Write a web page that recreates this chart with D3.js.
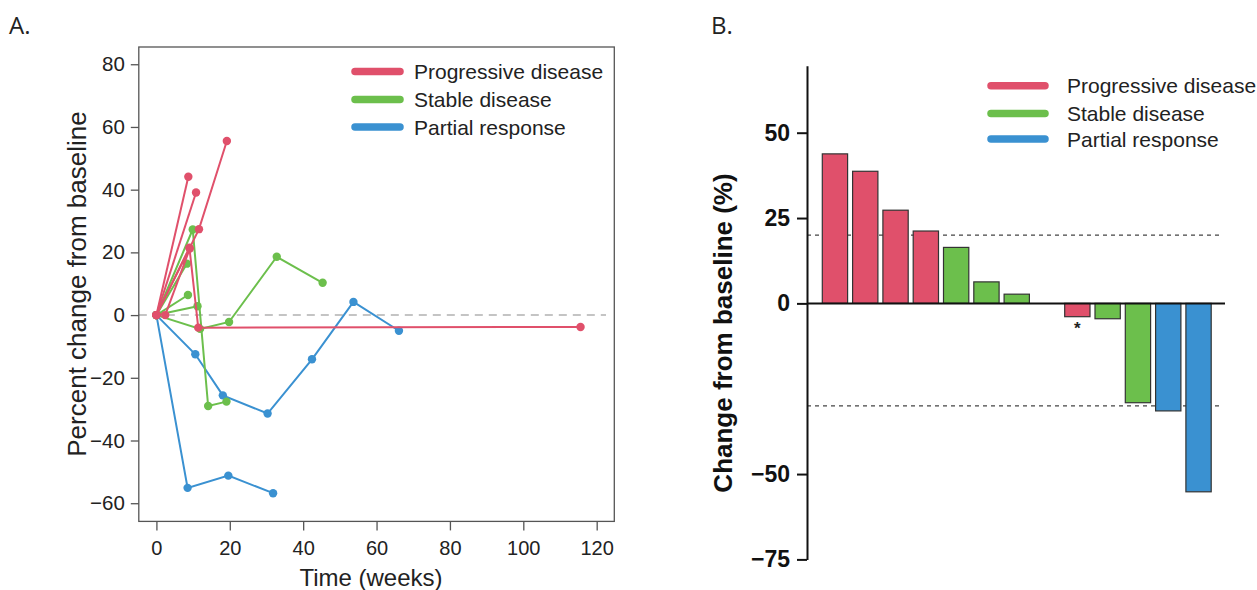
<!DOCTYPE html>
<html><head><meta charset="utf-8">
<script src="https://cdn.jsdelivr.net/npm/d3@7"></script>
<style>
html,body{margin:0;padding:0;background:#fff;}
svg{display:block;font-family:"Liberation Sans",Arial,Helvetica,sans-serif;}
</style></head>
<body><svg id="c" width="1257" height="590"></svg>
<script>
// ---------- DATA ----------
const groupNames = ["Progressive disease", "Stable disease", "Partial response"];
const groupColors = ["#E0506B", "#6CBF4C", "#3A91D1"];

// Panel A: [week, percent change] per patient
const pdPatients = [
  [[0,0],[8.7,44.1]],
  [[0,0],[10.8,39.1]],
  [[0,0],[11.6,27.4],[19.2,55.5]],
  [[2.4,0],[9.1,21.2]],
  [[0,0],[9.0,21.5],[11.4,-4.0],[115.6,-3.8]]
];
const sdPatients = [
  [[0,0],[9.9,27.3],[14.1,-29.0],[19.1,-27.6]],
  [[0,0],[8.3,16.4]],
  [[0,0],[8.6,6.4]],
  [[0,0],[11.2,2.8]],
  [[0,0],[11.9,-4.4],[19.8,-2.2],[32.8,18.6],[45.3,10.3]]
];
const prPatients = [
  [[0,0],[10.6,-12.5],[18.1,-25.6],[30.3,-31.4],[42.4,-14.1],[53.7,4.2],[66.1,-5.0]],
  [[0,0],[8.5,-55.1],[19.6,-51.2],[31.8,-56.8]]
];
const xTicksA = [0,20,40,60,80,100,120];
const yTicksA = [-60,-40,-20,0,20,40,60,80];

// Panel B: best change per patient (waterfall)
const waterfallValues = [43.8, 38.7, 27.3, 21.2, 16.4, 6.3, 2.7, null, -3.9, -4.5, -29.1, -31.5, -55.2];
const waterfallGroups = [0, 0, 0, 0, 1, 1, 1, null, 0, 1, 1, 2, 2];
const waterfallStar = [false,false,false,false,false,false,false,false,true,false,false,false,false];
const yTicksB = [50, 25, 0, -50, -75];
const thresholdsB = [20, -30];

// ---------- DRAW ----------
const svg = d3.select("#c");
svg.append("rect").attr("width",1257).attr("height",590).attr("fill","#fff");
const minus = s => String(s).replace("-", "\u2212");

// Panel labels
svg.append("text").attr("x",9).attr("y",34).attr("font-family","'Open Sans',sans-serif")
  .attr("font-size",24).attr("fill","#222").text("A.");
svg.append("text").attr("x",711).attr("y",34).attr("font-family","'Open Sans',sans-serif")
  .attr("font-size",24).attr("fill","#222").text("B.");

// ===== Panel A =====
const xA = d3.scaleLinear().domain([-4.8,124.8]).range([138.8,614.3]);
const yA = d3.scaleLinear().domain([-65.8,85.5]).range([521.4,47]);
const gA = svg.append("g");

// zero reference dashed
gA.append("line").attr("x1",xA.range()[0]).attr("x2",606)
  .attr("y1",yA(0)).attr("y2",yA(0))
  .attr("stroke","#c4c4c4").attr("stroke-width",2).attr("stroke-dasharray","8,6");

const line = d3.line().x(d=>xA(d[0])).y(d=>yA(d[1]));
[prPatients, sdPatients, pdPatients].forEach((grp, k) => {
  const gi = 2 - k;
  grp.forEach(p => {
    gA.append("path").attr("d", line(p)).attr("fill","none")
      .attr("stroke", groupColors[gi]).attr("stroke-width",2);
    gA.selectAll(null).data(p).enter().append("circle")
      .attr("cx", d=>xA(d[0])).attr("cy", d=>yA(d[1])).attr("r",4.2)
      .attr("fill", groupColors[gi]);
  });
});

// box
gA.append("rect").attr("x",138.8).attr("y",47).attr("width",614.3-138.8).attr("height",521.4-47)
  .attr("fill","none").attr("stroke","#555").attr("stroke-width",1.3);

// axes
const axXA = gA.append("g").attr("transform",`translate(0,${yA.range()[0]})`)
  .call(d3.axisBottom(xA).tickValues(xTicksA).tickSize(9).tickPadding(10).tickSizeOuter(0));
axXA.select(".domain").remove();
axXA.selectAll("line").attr("stroke","#555").attr("stroke-width",1.3);
axXA.selectAll("text").attr("font-size",20).attr("fill","#222")
  .attr("font-family","'Liberation Sans',Arial,sans-serif");
const axYA = gA.append("g").attr("transform",`translate(${xA.range()[0]},0)`)
  .call(d3.axisLeft(yA).tickValues(yTicksA).tickSize(8).tickPadding(6).tickFormat(minus));
axYA.select(".domain").remove();
axYA.selectAll("line").attr("stroke","#555").attr("stroke-width",1.3);
axYA.selectAll("text").attr("font-size",20.5).attr("fill","#222")
  .attr("font-family","'Liberation Sans',Arial,sans-serif");

gA.append("text").attr("x",371).attr("y",586).attr("text-anchor","middle")
  .attr("font-size",24).attr("fill","#222").text("Time (weeks)");
gA.append("text").attr("transform","translate(86,284) rotate(-90)").attr("text-anchor","middle")
  .attr("font-size",26).attr("fill","#222").text("Percent change from baseline");

// legend A
const legAy = [71.4, 99.6, 127];
groupNames.forEach((n,i)=>{
  gA.append("line").attr("x1",355).attr("x2",400).attr("y1",legAy[i]).attr("y2",legAy[i])
    .attr("stroke",groupColors[i]).attr("stroke-width",7.5).attr("stroke-linecap","round");
  gA.append("text").attr("x",414).attr("y",legAy[i]+7.5).attr("font-size",21)
    .attr("fill","#222").text(n);
});

// ===== Panel B =====
const xB = d3.scaleBand().domain(d3.range(waterfallValues.length))
  .range([822.3,1211.2]).paddingInner(0.165).paddingOuter(0);
const yB = d3.scaleLinear().domain([-75,69.6]).range([559.4,65.8]);
const gB = svg.append("g");

thresholdsB.forEach(t=>{
  gB.append("line").attr("x1",807).attr("x2",1223).attr("y1",yB(t)).attr("y2",yB(t))
    .attr("stroke","#444").attr("stroke-width",1.2).attr("stroke-dasharray","4,4");
});

const barData = waterfallValues.map((v,i)=>({i, v, g: waterfallGroups[i], star: waterfallStar[i]}))
  .filter(d=>d.v!==null);
gB.selectAll("rect.bar").data(barData).enter().append("rect").attr("class","bar")
  .attr("x", d=>xB(d.i)).attr("width", xB.bandwidth())
  .attr("y", d=>yB(Math.max(0,d.v))).attr("height", d=>Math.abs(yB(d.v)-yB(0)))
  .attr("fill", d=>groupColors[d.g]).attr("stroke","#333").attr("stroke-width",1.2);

gB.selectAll("text.star").data(barData.filter(d=>d.star)).enter().append("text")
  .attr("x", d=>xB(d.i)+xB.bandwidth()/2).attr("y", d=>yB(d.v)+17)
  .attr("text-anchor","middle").attr("font-size",17).attr("font-weight","bold")
  .attr("fill","#222").text("*");

// zero line
gB.append("line").attr("x1",807).attr("x2",1225).attr("y1",yB(0)).attr("y2",yB(0))
  .attr("stroke","#111").attr("stroke-width",2);

const axYB = gB.append("g").attr("transform","translate(807,0)")
  .call(d3.axisLeft(yB).tickValues(yTicksB).tickSize(10).tickPadding(7).tickFormat(minus).tickSizeOuter(0));
axYB.select(".domain").attr("stroke","#111").attr("stroke-width",2);
axYB.selectAll("line").attr("stroke","#111").attr("stroke-width",2);
axYB.selectAll("text").attr("font-size",23).attr("font-weight","bold").attr("fill","#111")
  .attr("font-family","'Liberation Sans',Arial,sans-serif");

gB.append("text").attr("transform","translate(732,333) rotate(-90)").attr("text-anchor","middle")
  .attr("font-size",26).attr("font-weight","bold").attr("fill","#111").text("Change from baseline (%)");

const legBy = [85.7, 113.5, 139];
groupNames.forEach((n,i)=>{
  gB.append("line").attr("x1",991).attr("x2",1045).attr("y1",legBy[i]).attr("y2",legBy[i])
    .attr("stroke",groupColors[i]).attr("stroke-width",7.5).attr("stroke-linecap","round");
  gB.append("text").attr("x",1067).attr("y",legBy[i]+7.5).attr("font-size",21)
    .attr("fill","#222").text(n);
});
</script></body></html>
